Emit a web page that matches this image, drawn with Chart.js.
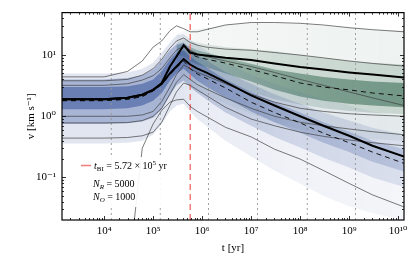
<!DOCTYPE html>
<html>
<head>
<meta charset="utf-8">
<script src="https://cdn.jsdelivr.net/npm/chart.js@4.4.1/dist/chart.umd.min.js"></script>
<style>
  html, body { margin: 0; padding: 0; background: #fff; }
  #wrap { width: 415px; height: 264px; }
</style>
</head>
<body>
<div id="wrap"><canvas id="chart" width="415" height="264"></canvas></div>
<script>
// time grid (yr) for the lines and the blue bands
const tGrid = [1.38e3, 1e4, 3e4, 6e4, 1e5, 1.5e5, 2.2e5, 3e5, 4.2e5, 5.7e5, 8e5, 1.2e6, 3e6, 1e7, 3e7, 1e8, 3e8, 1e9, 3e9, 1.32e10];
// time grid for the green population (starts near the peak)
const tGridO = [3e5, 4.2e5, 5.7e5, 8e5, 1.2e6, 3e6, 1e7, 3e7, 1e8, 3e8, 1e9, 3e9, 1.32e10];

// medians (thick) and dashed lines, km/s
const medianR = [1.9, 1.9, 2.0, 2.25, 2.7, 3.4, 5.0, 6.5, 8.6, 7.0, 6.0, 5.2, 3.6, 2.2, 1.5, 1.0, 0.7, 0.48, 0.33, 0.22];
const medianO = [1.9, 1.9, 2.0, 2.25, 2.7, 3.5, 6.5, 9.5, 14.5, 11, 10.2, 9.8, 9.0, 8.3, 7.3, 6.4, 5.8, 5.2, 4.8, 4.3];
const dashedR = [1.8, 1.8, 1.9, 2.1, 2.6, 3.3, 4.8, 6.2, 8.0, 6.0, 4.9, 4.2, 2.9, 1.7, 1.15, 0.78, 0.53, 0.37, 0.26, 0.17];
const dashedO = [1.8, 1.8, 1.9, 2.1, 2.6, 3.4, 6.3, 9.2, 14, 10.5, 9.3, 8.6, 7.4, 5.8, 4.6, 3.5, 3.0, 2.7, 2.4, 2.15];

// thin percentile lines
const thin1 = [4.4, 4.4, 5.4, 8.0, 13.5, 17, 25, 30, 27, 24, 24, 26, 31, 34, 34, 33, 31, 28, 26, 24];
const thin2 = [3.8, 3.8, 4.0, 4.7, 6.0, 8.5, 13, 17, 19, 16, 14.5, 13.5, 12.5, 12, 11, 10, 9, 8, 7.3, 6.6];
const thin3 = [3.2, 3.2, 3.4, 3.9, 4.6, 6, 9, 12, 14, 12, 10.5, 9.5, 8, 6.5, 5.2, 4, 3.2, 2.5, 2.0, 1.5];
const thin4 = [1.0, 1.0, 1.0, 1.05, 1.2, 1.75, 3.0, 4.8, 6.9, 6.0, 5.2, 4.6, 3.4, 2.3, 1.7, 1.35, 1.2, 1.1, 1.05, 1.0];
const thin5 = [0.78, 0.78, 0.79, 0.85, 1.0, 1.35, 2.3, 3.6, 4.8, 4.0, 3.3, 2.8, 2.0, 1.35, 1.0, 0.8, 0.7, 0.62, 0.56, 0.5];
const thin6 = [0.44, 0.44, 0.45, 0.48, 0.55, 0.8, 1.5, 2.5, 3.5, 3.2, 2.7, 2.2, 1.4, 0.9, 0.7, 0.55, 0.47, 0.41, 0.37, 0.33];
const thin7 = [null, null, 0.002, 0.3, 0.75, 1.25, 1.7, 1.85, 1.9, 1.45, 1.2, 1.0, 0.66, 0.46, 0.29, 0.2, 0.13, 0.08, 0.052, 0.033];

// density bands, blue population (R)
const blueOuterLo = [0.36, 0.36, 0.37, 0.4, 0.5, 0.75, 1.2, 1.5, 1.6, 1.2, 0.9, 0.7, 0.4, 0.22, 0.13, 0.08, 0.05, 0.034, 0.026, 0.02];
const blueOuterHi = [5.0, 5.0, 5.2, 6.0, 7.5, 11, 16, 21, 22, 18, 15, 12, 7.5, 4.8, 3.4, 2.5, 1.9, 1.5, 1.2, 1.0];
const blueMidLo = [0.75, 0.75, 0.77, 0.82, 0.95, 1.3, 2.2, 3.2, 3.8, 3.0, 2.4, 1.9, 1.15, 0.7, 0.46, 0.31, 0.21, 0.145, 0.1, 0.07];
const blueMidHi = [4.0, 4.0, 4.2, 4.7, 5.8, 8.2, 12, 15, 16, 12.5, 10, 8.3, 5.3, 3.4, 2.3, 1.6, 1.15, 0.85, 0.65, 0.5];
const blueCoreLo = [1.3, 1.3, 1.35, 1.5, 1.8, 2.4, 3.8, 5.0, 6.0, 4.8, 3.8, 3.1, 2.0, 1.2, 0.8, 0.54, 0.37, 0.26, 0.18, 0.125];
const blueCoreHi = [3.0, 3.0, 3.1, 3.4, 4.0, 5.5, 8.5, 11, 12, 9.5, 7.8, 6.4, 4.0, 2.5, 1.7, 1.15, 0.8, 0.56, 0.4, 0.29];

// density bands, green population (O)
const greenOuterLo = [6.0, 4.0, 3.0, 2.5, 2.2, 1.6, 1.1, 0.8, 0.6, 0.5, 0.45, 0.42, 0.4];
const greenOuterHi = [22, 25, 26, 27, 28, 31, 33, 33, 32, 30, 28, 26, 25];
const greenMidLo = [8.5, 7.0, 5.5, 5.0, 4.5, 3.5, 2.5, 1.9, 1.55, 1.35, 1.22, 1.14, 1.08];
const greenMidHi = [16, 18, 17, 16, 15, 13.5, 12.5, 11.5, 10, 9, 8, 7.5, 7.0];
const greenCoreLo = [10, 9.5, 8.0, 7.0, 6.4, 5.0, 3.7, 2.7, 2.1, 1.8, 1.6, 1.5, 1.4];
const greenCoreHi = [14, 15.5, 13.5, 12, 11, 9.0, 7.2, 5.8, 5.0, 4.4, 4.0, 3.7, 3.5];

// vertical markers
const snapTimes = [1.4e4, 1.4e5, 1.35e6, 1.35e7, 1.4e8, 1.35e9];
const tBI = 5.72e5;

// axes
const xMin = 1.38e3, xMax = 1.32e10;
const yMin = 0.0202, yMax = 49.4;
const xTickValues = [1e4, 1e5, 1e6, 1e7, 1e8, 1e9, 1e10];
const yTickValues = [0.1, 1, 10];

const SERIF = "'Liberation Serif', 'DejaVu Serif', serif";
const supMap = {'0':'⁰','1':'¹','2':'²','3':'³','4':'⁴','5':'⁵','6':'⁶','7':'⁷','8':'⁸','9':'⁹','-':'⁻'};
function pow10Label(v) {
    const e = String(Math.round(Math.log10(v)));
    return '10' + e.split('').map(c => supMap[c]).join('');
}

function pts(xs, ys) {
    return xs.map((x, i) => ({ x: x, y: ys[i] }));
}

// horizontal fade of a band colour along the time axis
const blueFade = [[1e3, 1], [3.5e5, 1], [1e6, 0.75], [1e8, 0.5], [1.32e10, 0.4]];
const greenFade = [[3e5, 0.55], [1e6, 0.65], [1e8, 0.9], [1.32e10, 1]];

function fadeFill(rgb, alpha, fade) {
    return function (context) {
        const chart = context.chart;
        const a = chart.chartArea;
        if (!a) return 'rgba(' + rgb + ',' + alpha + ')';
        const g = chart.ctx.createLinearGradient(a.left, 0, a.right, 0);
        fade.forEach(([t, f]) => {
            const px = chart.scales.x.getPixelForValue(t);
            const pos = Math.min(1, Math.max(0, (px - a.left) / (a.right - a.left)));
            g.addColorStop(pos, 'rgba(' + rgb + ',' + (alpha * f).toFixed(3) + ')');
        });
        return g;
    };
}

const datasets = [];

function addBand(xs, lo, hi, color, order) {
    datasets.push({ data: pts(xs, lo), borderWidth: 0, pointRadius: 0, fill: false, order: order });
    datasets.push({ data: pts(xs, hi), borderWidth: 0, pointRadius: 0, fill: '-1', backgroundColor: color, order: order });
}

// green underneath, blue on top
addBand(tGridO, greenOuterLo, greenOuterHi, fadeFill('45,100,75', 0.08, greenFade), 30);
addBand(tGridO, greenMidLo, greenMidHi, fadeFill('45,100,75', 0.2, greenFade), 29);
addBand(tGridO, greenCoreLo, greenCoreHi, fadeFill('45,100,75', 0.55, greenFade), 28);
addBand(tGrid, blueOuterLo, blueOuterHi, fadeFill('45,75,150', 0.14, blueFade), 27);
addBand(tGrid, blueMidLo, blueMidHi, fadeFill('45,75,150', 0.32, blueFade), 26);
addBand(tGrid, blueCoreLo, blueCoreHi, fadeFill('45,75,150', 0.5, blueFade), 25);

snapTimes.forEach(t => {
    datasets.push({ data: [{ x: t, y: yMin }, { x: t, y: yMax }], borderColor: 'rgba(150,150,150,0.9)',
        borderWidth: 1, borderDash: [2, 3], pointRadius: 0, order: 20 });
});
datasets.push({ data: [{ x: tBI, y: yMin }, { x: tBI, y: yMax }], borderColor: 'rgba(240,110,110,0.9)',
    borderWidth: 1.5, borderDash: [6, 4], pointRadius: 0, order: 19 });

[thin1, thin2, thin3, thin4, thin5, thin6, thin7].forEach(v => {
    datasets.push({ data: pts(tGrid, v), borderColor: 'rgba(60,60,60,0.85)', borderWidth: 0.8,
        pointRadius: 0, order: 10 });
});

datasets.push({ data: pts(tGrid, dashedO), borderColor: '#111', borderWidth: 1, borderDash: [5, 4], pointRadius: 0, order: 5 });
datasets.push({ data: pts(tGrid, dashedR), borderColor: '#111', borderWidth: 1, borderDash: [5, 4], pointRadius: 0, order: 5 });
datasets.push({ data: pts(tGrid, medianO), borderColor: '#000', borderWidth: 2, pointRadius: 0, order: 1 });
datasets.push({ data: pts(tGrid, medianR), borderColor: '#000', borderWidth: 2, pointRadius: 0, order: 1 });

// frame, inward ticks, legend box and annotations
const decorations = {
    id: 'decorations',
    afterDatasetsDraw(chart) {
        const { ctx, chartArea: a, scales: { x, y } } = chart;
        ctx.save();

        // legend box
        ctx.fillStyle = 'rgba(255,255,255,0.92)';
        ctx.fillRect(76, 157, 86, 50);
        ctx.strokeStyle = 'rgba(240,110,110,0.9)';
        ctx.lineWidth = 1.5;
        ctx.beginPath();
        ctx.moveTo(81, 165.5);
        ctx.lineTo(91, 165.5);
        ctx.stroke();

        ctx.fillStyle = '#000';
        ctx.textBaseline = 'alphabetic';
        let cx = 94;
        const put = (txt, font, dy) => {
            ctx.font = font;
            ctx.fillText(txt, cx, 169 + (dy || 0));
            cx += ctx.measureText(txt).width;
        };
        put('t', 'italic 10px ' + SERIF);
        put('BI', '7px ' + SERIF, 2);
        put(' = 5.72 × 10', '10px ' + SERIF);
        put('5', '7px ' + SERIF, -4);
        put(' yr', '10px ' + SERIF);

        const nLine = (sub, val, yy) => {
            let px = 93;
            ctx.font = 'italic 10px ' + SERIF;
            ctx.fillText('N', px, yy);
            px += ctx.measureText('N').width;
            ctx.font = 'italic 7px ' + SERIF;
            ctx.fillText(sub, px, yy + 2);
            px += ctx.measureText(sub).width;
            ctx.font = '10px ' + SERIF;
            ctx.fillText(' = ' + val, px, yy);
        };
        nLine('R', '5000', 187);
        nLine('O', '1000', 200);

        // y axis title
        ctx.save();
        ctx.translate(31, (a.top + a.bottom) / 2);
        ctx.rotate(-Math.PI / 2);
        ctx.textAlign = 'center';
        ctx.textBaseline = 'middle';
        ctx.font = '11px ' + SERIF;
        ctx.fillText('v [km s⁻¹]', 0, 0);
        ctx.restore();

        // frame
        ctx.strokeStyle = '#000';
        ctx.lineWidth = 1.2;
        ctx.strokeRect(a.left, a.top, a.right - a.left, a.bottom - a.top);

        // log ticks, pointing inward on all sides
        ctx.lineWidth = 0.8;
        ctx.beginPath();
        for (let d = Math.floor(Math.log10(xMin)); d <= Math.ceil(Math.log10(xMax)); d++) {
            for (let m = 1; m <= 9; m++) {
                const v = m * Math.pow(10, d);
                if (v < xMin || v > xMax) continue;
                const px = Math.round(x.getPixelForValue(v)) + 0.5;
                const len = m === 1 ? 4 : 2;
                ctx.moveTo(px, a.bottom); ctx.lineTo(px, a.bottom - len);
                ctx.moveTo(px, a.top); ctx.lineTo(px, a.top + len);
            }
        }
        for (let d = Math.floor(Math.log10(yMin)); d <= Math.ceil(Math.log10(yMax)); d++) {
            for (let m = 1; m <= 9; m++) {
                const v = m * Math.pow(10, d);
                if (v < yMin || v > yMax) continue;
                const py = Math.round(y.getPixelForValue(v)) + 0.5;
                const len = m === 1 ? 4 : 2;
                ctx.moveTo(a.left, py); ctx.lineTo(a.left + len, py);
                ctx.moveTo(a.right, py); ctx.lineTo(a.right - len, py);
            }
        }
        ctx.stroke();
        ctx.restore();
    }
};

new Chart(document.getElementById('chart'), {
    type: 'line',
    data: { datasets: datasets },
    options: {
        responsive: false,
        animation: false,
        devicePixelRatio: 1,
        layout: { padding: { top: 10, right: 11, left: 0, bottom: 0 } },
        plugins: { legend: { display: false }, tooltip: { enabled: false } },
        elements: { line: { tension: 0 } },
        scales: {
            x: {
                type: 'logarithmic',
                min: xMin, max: xMax,
                grid: { display: false, drawTicks: false },
                border: { display: false },
                afterBuildTicks: s => { s.ticks = xTickValues.map(v => ({ value: v })); },
                afterFit: s => { s.height = 44; },
                ticks: { color: '#000', font: { family: SERIF, size: 11 }, padding: 5, maxRotation: 0,
                    autoSkip: false, callback: v => pow10Label(v) },
                title: { display: true, text: 't [yr]', color: '#000', font: { family: SERIF, size: 11 },
                    padding: { top: 0, bottom: 9 } }
            },
            y: {
                type: 'logarithmic',
                min: yMin, max: yMax,
                grid: { display: false, drawTicks: false },
                border: { display: false },
                afterBuildTicks: s => { s.ticks = yTickValues.map(v => ({ value: v })); },
                afterFit: s => { s.width = 62; },
                ticks: { color: '#000', font: { family: SERIF, size: 11 }, padding: 6,
                    autoSkip: false, callback: v => pow10Label(v) },
                title: { display: false }
            }
        }
    },
    plugins: [decorations]
});
</script>
</body>
</html>
